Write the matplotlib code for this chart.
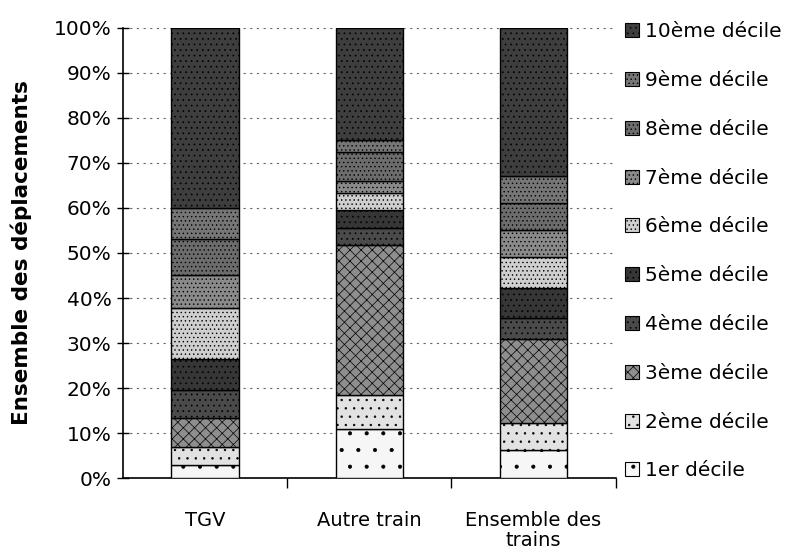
import numpy as np
import matplotlib.pyplot as plt
from matplotlib.patches import Patch

categories = ["TGV", "Autre train", "Ensemble des\ntrains"]
deciles = ["1er décile", "2ème décile", "3ème décile", "4ème décile", "5ème décile",
           "6ème décile", "7ème décile", "8ème décile", "9ème décile", "10ème décile"]

# share (%) of trips per income decile, bottom to top
tgv = [2.9, 4.0, 6.4, 6.3, 6.8, 11.3, 7.3, 8.0, 7.0, 40.0]
autre = [10.9, 7.5, 33.4, 3.7, 4.1, 3.7, 2.7, 6.4, 2.6, 25.0]
ensemble = [6.2, 6.0, 18.7, 4.6, 6.7, 6.8, 6.0, 6.0, 6.0, 33.0]

faces = ['#f6f6f6', '#e2e2e2', '#8e8e8e', '#4a4a4a', '#363636',
         '#cfcfcf', '#8a8a8a', '#6c6c6c', '#767676', '#3e3e3e']
hatches = ['.', '..', 'xxx', '...', '...', '....', '....', '....', '....', '...']

plt.rcParams['font.family'] = ['DejaVu Sans']
plt.rcParams['hatch.linewidth'] = 0.5

fig = plt.figure(figsize=(8.07, 5.53), dpi=100)
ax = fig.add_axes([0.152, 0.1356, 0.611, 0.8138])

data = np.array([tgv, autre, ensemble]).T
x = np.arange(len(categories))
bottom = np.zeros(len(categories))
for i in range(len(deciles)):
    ax.bar(x, data[i], 0.41, bottom=bottom, color=faces[i], edgecolor='black',
           linewidth=1.0, hatch=hatches[i], zorder=3)
    bottom += data[i]

ax.set_xlim(-0.5, 2.5)
ax.set_ylim(0, 100)
ax.set_yticks(np.arange(0, 101, 10))
ax.set_yticklabels(['%d%%' % v for v in range(0, 101, 10)], fontsize=14.5)
ax.yaxis.grid(True, linestyle=(0, (2, 4)), color='#666666', linewidth=0.8, zorder=0)
ax.tick_params(axis='y', direction='inout', length=8, width=1, pad=4)

ax.set_xticks([0.5, 1.5, 2.5])
ax.set_xticklabels([])
ax.set_xticks(x, minor=True)
ax.set_xticklabels(categories, minor=True, fontsize=14, linespacing=1.05)
ax.tick_params(axis='x', which='major', direction='out', length=7, width=1)
ax.tick_params(axis='x', which='minor', length=0, pad=24)

for s in ['top', 'right']:
    ax.spines[s].set_visible(False)
ax.spines['left'].set_linewidth(1.2)
ax.spines['bottom'].set_linewidth(1.2)

ax.set_ylabel("Ensemble des déplacements", fontsize=15.5, fontweight='bold', labelpad=16)

handles = [Patch(facecolor=faces[i], edgecolor='black', hatch=hatches[i], linewidth=0.8)
           for i in range(len(deciles))][::-1]
fig.legend(handles, deciles[::-1], loc='upper left', bbox_to_anchor=(0.762, 0.978),
           frameon=False, fontsize=14.5, handlelength=0.7, handleheight=0.7,
           handletextpad=0.3, labelspacing=1.48, borderpad=0)

fig.savefig("out.png", dpi=100)
